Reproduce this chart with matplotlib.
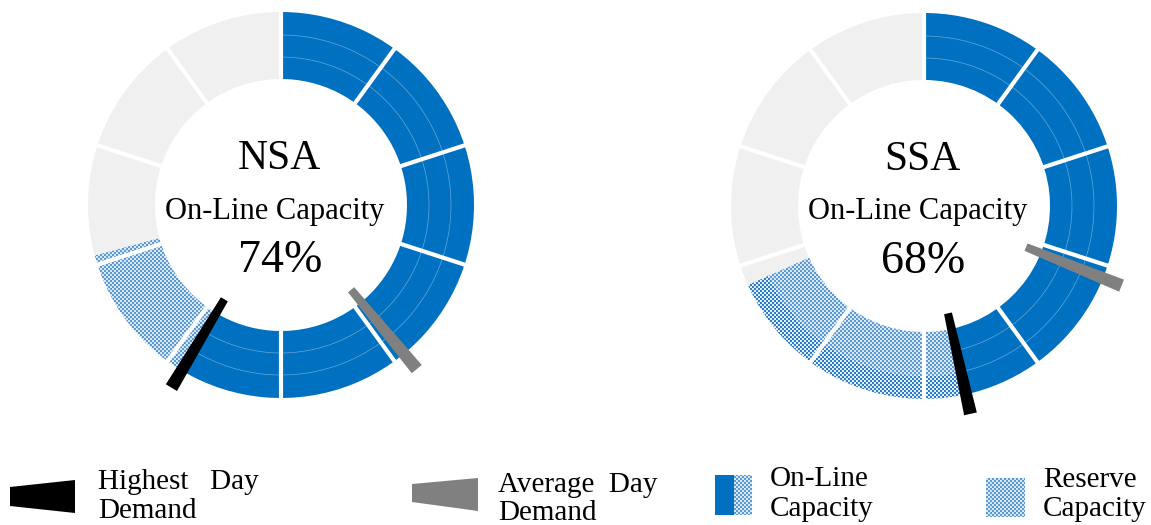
import numpy as np
import matplotlib.pyplot as plt
from matplotlib.patches import Wedge, Polygon, Rectangle

# chart values (percent of the full ring, clockwise from 12 o'clock)
regions = ['NSA', 'SSA']
online_label = [74, 68]
committed_share = [58.6, 46.5]   # solid blue
reserve_share = [12.2, 21.8]     # checkered blue
avg_demand = [39.0, 31.1]        # grey needle
peak_demand = [58.6, 46.5]       # black needle
n_segments = 10

BLUE = '#0070c0'
SPARE = '#f0f0f0'
W, H = 1151, 525

fig = plt.figure(figsize=(W / 100, H / 100), dpi=100)
ax = fig.add_axes([0, 0, 1, 1])
ax.set_xlim(0, W)
ax.set_ylim(H, 0)
ax.axis('off')

yy, xx = np.mgrid[0:H, 0:W]
chk = ((xx // 2 + yy // 2) % 2).astype(bool)


def checker(c1, c2):
    a = np.array(plt.matplotlib.colors.to_rgb(c1))
    b = np.array(plt.matplotlib.colors.to_rgb(c2))
    return np.where(chk[..., None], a, b)


light_chk = checker('#5a9ad6', '#dae8f6')
dark_chk = checker('#2a7ecb', '#e4eef8')


def fill_checker(patch, img):
    patch.set_transform(ax.transData)
    im = ax.imshow(img, extent=(0, W, H, 0), interpolation='nearest',
                   origin='upper', zorder=2)
    im.set_clip_path(patch)


centers = [(281, 205), (924, 206)]
radii = [126, 148, 170, 193]
dark_outer = [False, True]

for k, name in enumerate(regions):
    cx, cy = centers[k]
    b_end = committed_share[k] * 3.6
    r_end = (committed_share[k] + reserve_share[k]) * 3.6
    # solid blue part
    ax.add_patch(Wedge((cx, cy), radii[-1], -90, b_end - 90,
                       width=radii[-1] - radii[0], color=BLUE, lw=0, zorder=2))
    # reserve (checkered)
    if dark_outer[k]:
        w_in = Wedge((cx, cy), radii[2], b_end - 90, r_end - 90,
                     width=radii[2] - radii[0])
        fill_checker(w_in, light_chk)
        w_out = Wedge((cx, cy), radii[3], b_end - 90, r_end - 90,
                      width=radii[3] - radii[2])
        fill_checker(w_out, dark_chk)
    else:
        w = Wedge((cx, cy), radii[-1], b_end - 90, r_end - 90,
                  width=radii[-1] - radii[0])
        fill_checker(w, light_chk)
    # unused part
    ax.add_patch(Wedge((cx, cy), radii[-1], r_end - 90, 270,
                       width=radii[-1] - radii[0], color=SPARE, lw=0, zorder=2))

    # faint sub-ring lines (only visible on the blue part)
    t = np.deg2rad(np.linspace(-90, b_end - 90, 300))
    for r in radii[1:3]:
        ax.plot(cx + r * np.cos(t), cy + r * np.sin(t), color='white',
                lw=0.5, alpha=0.4, zorder=3)

    # white gaps between segments
    for s in range(n_segments):
        th = np.deg2rad(s * 360 / n_segments)
        ux, uy = np.sin(th), -np.cos(th)
        ax.plot([cx + (radii[0] - 3) * ux, cx + (radii[-1] + 3) * ux],
                [cy + (radii[0] - 3) * uy, cy + (radii[-1] + 3) * uy],
                color='white', lw=3.0, solid_capstyle='butt', zorder=4)

    # demand needles
    for val, col in [(avg_demand[k], '#808080'), (peak_demand[k], 'black')]:
        th = np.deg2rad(val * 3.6)
        ux, uy = np.sin(th), -np.cos(th)
        vx, vy = np.cos(th), np.sin(th)
        r0, r1, w0, w1 = 110, 213, 8, 13
        pts = [(cx + r0 * ux + w0 / 2 * vx, cy + r0 * uy + w0 / 2 * vy),
               (cx + r1 * ux + w1 / 2 * vx, cy + r1 * uy + w1 / 2 * vy),
               (cx + r1 * ux - w1 / 2 * vx, cy + r1 * uy - w1 / 2 * vy),
               (cx + r0 * ux - w0 / 2 * vx, cy + r0 * uy - w0 / 2 * vy)]
        ax.add_patch(Polygon(pts, closed=True, color=col, lw=0, zorder=5))

    serif = 'Liberation Serif'
    ax.text(cx - 2, cy - 46, name, ha='center', va='center', fontsize=30,
            family=serif, zorder=6)
    ax.text(cx - 6, cy + 6, 'On-Line Capacity', ha='center', va='center',
            fontsize=22, family=serif, zorder=6)
    ax.text(cx - 1, cy + 56, f'{online_label[k]}%', ha='center', va='center',
            fontsize=33, family=serif, zorder=6)

# legend
serif = 'Liberation Serif'
ax.add_patch(Polygon([(10, 487), (75, 480), (75, 513), (10, 506)],
                     color='black', lw=0))
ax.add_patch(Polygon([(412, 484), (478, 478), (478, 511), (412, 502)],
                     color='#808080', lw=0))
ax.add_patch(Rectangle((715, 475), 19, 40, color=BLUE, lw=0))
fill_checker(Rectangle((734, 475), 18, 40), light_chk)
fill_checker(Rectangle((986, 478), 39, 39), light_chk)

legend_text = [
    (98, 489, 'Highest   Day'), (98, 518, 'Demand'),
    (498, 492, 'Average  Day'), (498, 520, 'Demand'),
    (770, 486, 'On-Line'), (770, 516, 'Capacity'),
    (1043, 487, 'Reserve'), (1043, 516, 'Capacity'),
]
for x, y, s in legend_text:
    ax.text(x, y, s, ha='left', va='baseline', fontsize=21, family=serif)

ax.set_xlim(0, W)
ax.set_ylim(H, 0)
ax.set_aspect('auto')
fig.savefig('out.png', dpi=100)
